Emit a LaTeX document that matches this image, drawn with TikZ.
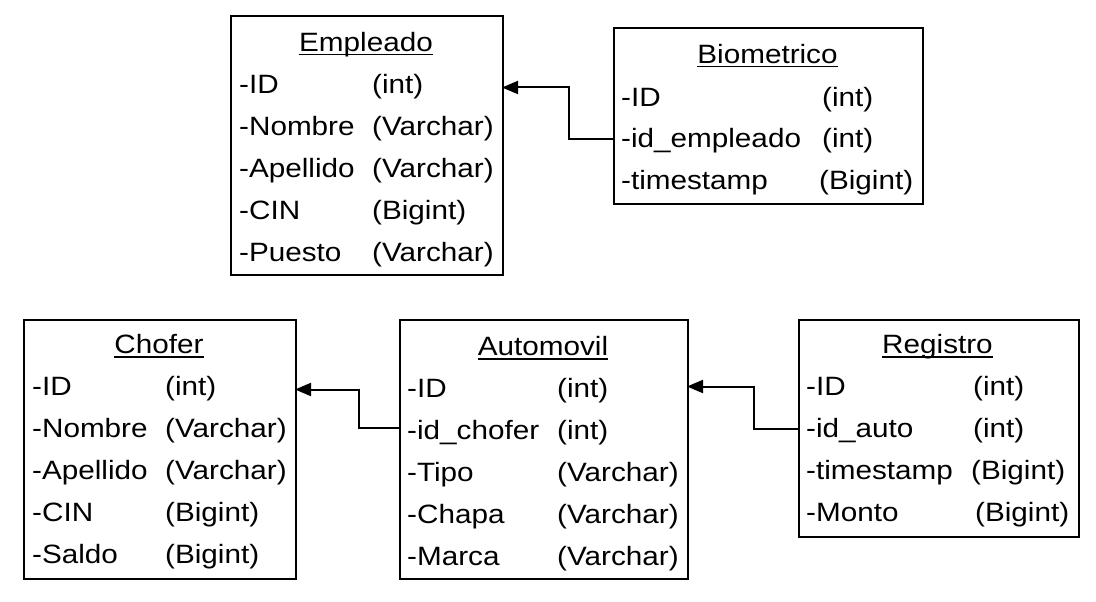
\documentclass[tikz,border=0pt]{standalone}
\usepackage{fontspec}
\setmainfont[FakeStretch=1.12]{Liberation Sans}
\usetikzlibrary{arrows.meta}
\tikzset{
  box/.style={draw, line width=2pt, inner sep=0pt, anchor=north west},
  ttl/.style={anchor=base, inner sep=0pt, font=\fontsize{26.5}{30}\selectfont},
  fld/.style={anchor=base west, inner sep=0pt, font=\fontsize{26.5}{30}\selectfont},
  uline/.style={line width=1.6pt},
  conn/.style={line width=2pt, -{Triangle[length=16pt,width=13pt]}},
}
\newcommand{\ulin}[1]{\draw[uline] ([yshift=-3.2pt]#1.base west) -- ([yshift=-3.2pt]#1.base east);}
\begin{document}
\begin{tikzpicture}[x=1pt,y=-1pt]
\useasboundingbox (0,0) rectangle (1096,602);
% Empleado
\node[box, minimum width=272pt, minimum height=259pt] (emp) at (230,15) {};
\node[ttl] (empT) at (366,51.5) {Empleado}; \ulin{empT}
\node[fld] (e1) at (239,93.5) {-ID};        \node[fld] (e1t) at (372,93.5) {(int)};
\node[fld] (e2) at (239,135.5) {-Nombre};   \node[fld] (e2t) at (372,135.5) {(Varchar)};
\node[fld] (e3) at (239,177.5) {-Apellido}; \node[fld] (e3t) at (372,177.5) {(Varchar)};
\node[fld] (e4) at (239,219.5) {-CIN};      \node[fld] (e4t) at (372,219.5) {(Bigint)};
\node[fld] (e5) at (239,261.5) {-Puesto};   \node[fld] (e5t) at (372,261.5) {(Varchar)};
% Biometrico
\node[box, minimum width=309pt, minimum height=175pt] (bio) at (613,27.5) {};
\node[ttl] (bioT) at (767.5,63.5) {Biometrico}; \ulin{bioT}
\node[fld] (b1) at (621,106.5) {-ID};          \node[fld] (b1t) at (822,106.5) {(int)};
\node[fld] (b2) at (621,147.5) {-id\_empleado}; \node[fld] (b2t) at (822,147.5) {(int)};
\node[fld] (b3) at (621,189.5) {-timestamp};   \node[fld] (b3t) at (819,189.5) {(Bigint)};
% Chofer
\node[box, minimum width=272pt, minimum height=259pt] (cho) at (23,318.5) {};
\node[ttl] (choT) at (159,353.5) {Chofer}; \ulin{choT}
\node[fld] (c1) at (32,395.5) {-ID};        \node[fld] (c1t) at (165,395.5) {(int)};
\node[fld] (c2) at (32,437.5) {-Nombre};    \node[fld] (c2t) at (165,437.5) {(Varchar)};
\node[fld] (c3) at (32,479.5) {-Apellido};  \node[fld] (c3t) at (165,479.5) {(Varchar)};
\node[fld] (c4) at (32,521.5) {-CIN};       \node[fld] (c4t) at (165,521.5) {(Bigint)};
\node[fld] (c5) at (32,563.5) {-Saldo};     \node[fld] (c5t) at (165,563.5) {(Bigint)};
% Automovil
\node[box, minimum width=288pt, minimum height=259pt] (aut) at (399,319) {};
\node[ttl] (autT) at (543,355.5) {Automovil}; \ulin{autT}
\node[fld] (a1) at (407,397.5) {-ID};         \node[fld] (a1t) at (557,397.5) {(int)};
\node[fld] (a2) at (407,439.5) {-id\_chofer}; \node[fld] (a2t) at (557,439.5) {(int)};
\node[fld] (a3) at (407,481.5) {-Tipo};       \node[fld] (a3t) at (557,481.5) {(Varchar)};
\node[fld] (a4) at (407,523.5) {-Chapa};      \node[fld] (a4t) at (557,523.5) {(Varchar)};
\node[fld] (a5) at (407,565.5) {-Marca};      \node[fld] (a5t) at (557,565.5) {(Varchar)};
% Registro
\node[box, minimum width=280pt, minimum height=217pt] (reg) at (798,318.5) {};
\node[ttl] (regT) at (937.5,353.5) {Registro}; \ulin{regT}
\node[fld] (r1) at (806,395.5) {-ID};         \node[fld] (r1t) at (973,395.5) {(int)};
\node[fld] (r2) at (806,437.5) {-id\_auto};   \node[fld] (r2t) at (973,437.5) {(int)};
\node[fld] (r3) at (806,479.5) {-timestamp};  \node[fld] (r3t) at (971,479.5) {(Bigint)};
\node[fld] (r4) at (806,521.5) {-Monto};      \node[fld] (r4t) at (975,521.5) {(Bigint)};
% connectors
\coordinate (bioEnd) at (613,138.5);
\coordinate (empEnd) at (502,87.5);
\draw[conn] (bioEnd) -- (569,138.5) |- (empEnd);
\coordinate (autEnd) at (399,427.5);
\coordinate (choEnd) at (295,389.5);
\draw[conn] (autEnd) -- (359,427.5) |- (choEnd);
\coordinate (regEnd) at (798,428.5);
\coordinate (autIn) at (687,386.5);
\draw[conn] (regEnd) -- (754,428.5) |- (autIn);
\end{tikzpicture}
\end{document}
